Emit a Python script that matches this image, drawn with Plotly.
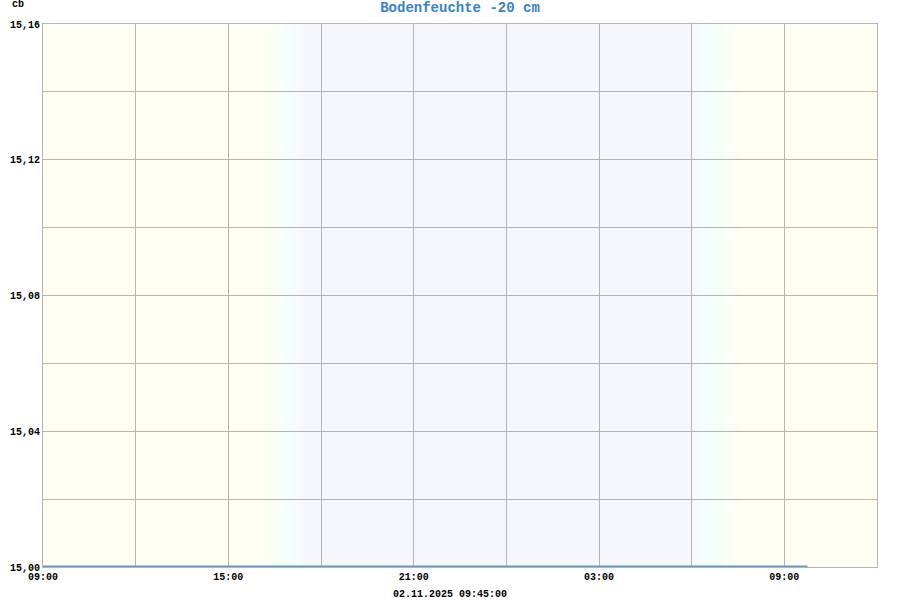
import plotly.graph_objects as go
from datetime import datetime, timedelta

# ---- data ----
times = ["2025-11-01 09:00", "2025-11-01 12:00", "2025-11-01 15:00", "2025-11-01 18:00",
         "2025-11-01 21:00", "2025-11-02 00:00", "2025-11-02 03:00", "2025-11-02 06:00",
         "2025-11-02 09:00", "2025-11-02 09:45"]
values = [15.00, 15.00, 15.00, 15.00, 15.00, 15.00, 15.00, 15.00, 15.00, 15.00]

title_text = "Bodenfeuchte -20 cm"
unit_text = "cb"
stamp_text = "02.11.2025 09:45:00"
x_range = ["2025-11-01 09:00", "2025-11-02 12:00"]
y_range = [15.00, 15.16]

# day/night background colour stops
bg_times = ["2025-11-01 09:00", "2025-11-01 16:10", "2025-11-01 16:40", "2025-11-01 17:00",
            "2025-11-01 17:30", "2025-11-02 06:00", "2025-11-02 06:26", "2025-11-02 06:55",
            "2025-11-02 07:35", "2025-11-02 12:00"]
bg_colors = ["#FFFFF3", "#FFFFF3", "#F5FFF7", "#F4FEFF", "#F6F7FD", "#F6F7FD",
             "#F4FEFF", "#F5FFF7", "#FFFFF3", "#FFFFF3"]

FONT = "Liberation Mono, Courier New, monospace"
GRID = "#B4B4B4"


def hex2rgb(h):
    h = h.lstrip("#")
    return tuple(int(h[i:i + 2], 16) for i in (0, 2, 4))


def parse(s):
    return datetime.strptime(s, "%Y-%m-%d %H:%M")


shapes = []
for i in range(len(bg_times) - 1):
    t0, t1 = parse(bg_times[i]), parse(bg_times[i + 1])
    c0, c1 = hex2rgb(bg_colors[i]), hex2rgb(bg_colors[i + 1])
    n = 1 if c0 == c1 else 20
    step = (t1 - t0) / n
    for k in range(n):
        f = (k + 0.5) / n
        c = tuple(round(c0[j] + (c1[j] - c0[j]) * f) for j in range(3))
        shapes.append(dict(type="rect", xref="x", yref="paper",
                           x0=t0 + step * k, x1=t0 + step * (k + 1) + timedelta(seconds=30),
                           y0=0, y1=1, line=dict(width=0),
                           fillcolor="rgb(%d,%d,%d)" % c, layer="below"))

fig = go.Figure()
fig.add_trace(go.Scatter(x=times, y=values, mode="lines",
                         line=dict(color="#5B9BD5", width=3), hoverinfo="skip"))

fig.update_layout(
    width=900, height=600,
    margin=dict(l=43, r=23, t=24, b=33, autoexpand=False),
    paper_bgcolor="white", plot_bgcolor="white",
    separators=",.",
    showlegend=False,
    shapes=shapes,
    font=dict(family=FONT, size=10, color="#000000"),
    title=dict(text="<b>" + title_text + "</b>", x=0.5, xanchor="center",
               xref="paper", yref="container",
               y=0.988, yanchor="middle",
               font=dict(family=FONT, size=14, color="#3A82C0")),
    annotations=[
        dict(text="<b>" + unit_text + "</b>", xref="paper", yref="paper",
             x=-0.04, y=1.035, xanchor="left", yanchor="middle", showarrow=False,
             font=dict(family=FONT, size=10, color="#000")),
        dict(text="<b>" + stamp_text + "</b>", xref="paper", yref="paper",
             x=0.488, y=-0.0515, xanchor="center", yanchor="middle", showarrow=False,
             font=dict(family=FONT, size=10, color="#000")),
    ],
)

fig.update_xaxes(
    range=x_range, type="date", automargin=False,
    tick0="2025-11-01 09:00", dtick=6 * 3600 * 1000, tickformat="%H:%M",
    showgrid=True, gridcolor=GRID, gridwidth=1,
    minor=dict(dtick=3 * 3600 * 1000, showgrid=True, gridcolor=GRID, gridwidth=1,
               tick0="2025-11-01 09:00"),
    showline=True, linecolor=GRID, linewidth=1, mirror=True,
    ticks="", ticklen=0,
    tickfont=dict(family=FONT, size=10, color="#000", weight="bold"),
    zeroline=False,
)
fig.update_yaxes(
    range=y_range, tick0=15.0, dtick=0.04, tickformat=".2f", automargin=False,
    showgrid=True, gridcolor=GRID, gridwidth=1,
    minor=dict(dtick=0.02, showgrid=True, gridcolor=GRID, gridwidth=1),
    showline=True, linecolor=GRID, linewidth=1, mirror=True,
    ticks="", ticklen=0,
    tickfont=dict(family=FONT, size=10, color="#000", weight="bold"),
    zeroline=False,
)

fig.write_html("out.html", config={"displayModeBar": False},
               post_script="document.body.style.margin='0';document.body.style.overflow='hidden';")
